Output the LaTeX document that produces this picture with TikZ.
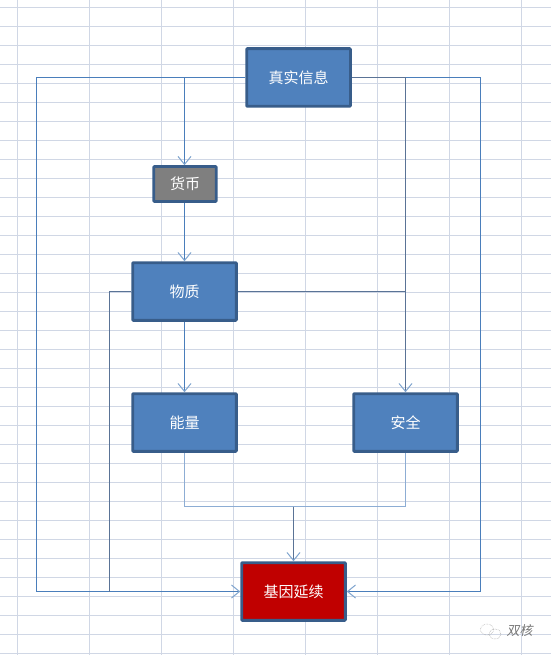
\documentclass[tikz,border=0pt]{standalone}
\usepackage{fontspec}
\setmainfont{Noto Sans CJK SC}
\usetikzlibrary{arrows.meta}
\definecolor{gridc}{HTML}{D0D7E5}
\definecolor{boxfill}{HTML}{4F81BD}
\definecolor{boxedge}{HTML}{385D8A}
\definecolor{linec}{HTML}{4A7EBB}
\definecolor{darkline}{HTML}{5A7396}
\definecolor{greyfill}{HTML}{7F7F7F}
\definecolor{redfill}{HTML}{C00000}
\definecolor{wmark}{HTML}{777777}
\tikzset{
  x=1pt,y=-1pt,
  flowbox/.style={draw=boxedge,line width=2.8pt,fill=boxfill,text=white,font=\fontsize{15}{17}\selectfont,
    minimum width=103.7pt,minimum height=57.7pt,inner sep=0pt,rounded corners=0.8pt},
  smallbox/.style={flowbox,minimum width=62.5pt,minimum height=34.8pt,fill=greyfill},
  redbox/.style={flowbox,fill=redfill},
  conn/.style={draw=linec,line width=1pt},
  darkconn/.style={draw=darkline,line width=1pt},
  mergeconn/.style={draw=boxfill!65!white,line width=1.5pt},
  arrowed/.style={-{Straight Barb[length=8pt,width=13pt,line width=1pt,color=linec!70!white]}},
  gridline/.style={draw=gridc,line width=1pt}
}
\begin{document}
\begin{tikzpicture}
\useasboundingbox (0,0) rectangle (551,655);
\fill[white] (0,0) rectangle (551,655);
\foreach \i in {0,...,7} \draw[gridline] (17.5+72*\i,0) -- (17.5+72*\i,655);
\foreach \i in {0,...,34} \draw[gridline] (0,7.5+19*\i) -- (551,7.5+19*\i);

\node[flowbox] (info) at (298.6,77.5) {真实信息};
\node[smallbox] (money) at (185,184) {货币};
\node[flowbox] (matter) at (184.5,291.5) {物质};
\node[flowbox] (energy) at (184.5,422.5) {能量};
\node[flowbox] (safety) at (405.5,422.5) {安全};
\node[redbox] (gene) at (293.5,591.5) {基因延续};

\coordinate (leftrail) at (36.5,591.5);
\coordinate (rightrail) at (480.5,591.5);
\coordinate (innerrail) at (109.5,591.5);
\coordinate (merge) at (293.5,506.5);
\coordinate (joint) at (405.5,291.5);

\draw[conn,arrowed] (info.west) -| (money.north -| matter.north);
\draw[conn,arrowed] (info.west) -| (leftrail) -- (gene.west);
\draw[conn,arrowed] (info.east) -| (rightrail) -- (gene.east);
\draw[darkconn,arrowed] (info.east) -| (safety.north);
\draw[conn,arrowed] (money.south -| matter.north) -- (matter.north);
\draw[conn,arrowed] (matter.south) -- (energy.north);
\draw[darkconn] (matter.east) -- (joint);
\draw[darkconn] (matter.west) -| (innerrail);
\draw[mergeconn] (energy.south) |- (merge);
\draw[mergeconn] (safety.south) |- (merge);
\draw[darkconn,arrowed] (merge) -- (gene.north);

% watermark
\begin{scope}[draw=wmark!70,line width=0.5pt,densely dotted]
\draw (487,629.5) ellipse [x radius=6.5,y radius=5.5];
\draw (495,634) ellipse [x radius=6,y radius=5];
\end{scope}
\node[text=wmark,font=\fontsize{13}{15}\selectfont,inner sep=0pt,xslant=0.2] (mark) at (520.5,630.5) {双核};
\end{tikzpicture}
\end{document}
